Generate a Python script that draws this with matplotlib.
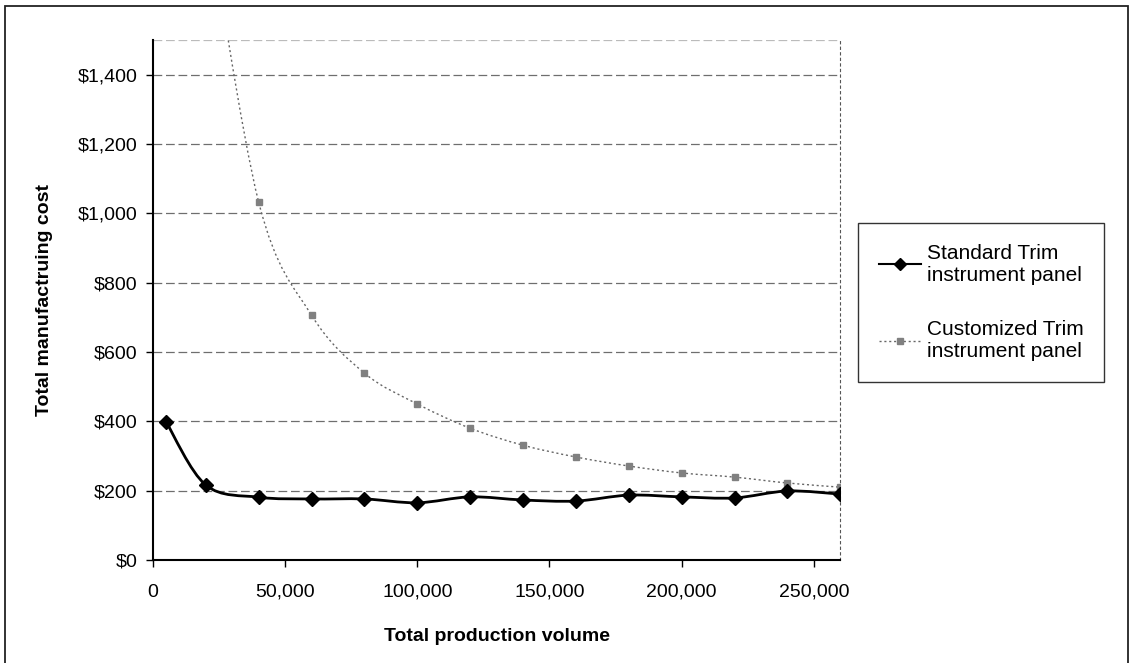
import numpy as np
from matplotlib import pyplot as plt
from matplotlib.path import Path
from matplotlib.patches import PathPatch, Rectangle
from matplotlib.lines import Line2D
from matplotlib.ticker import FuncFormatter

'''
Total manufacturing cost vs. total production volume
'''

volume = [5000, 20000, 40000, 60000, 80000, 100000, 120000, 140000,
          160000, 180000, 200000, 220000, 240000, 260000]
standard_cost = [398, 216, 181, 176, 176, 165, 182, 173, 170, 187, 182, 179, 199, 190]

# customized series: first visible point is at 40,000, the one at 20,000 is off the top
custom_volume = [20000, 40000, 60000, 80000, 100000, 120000, 140000,
                 160000, 180000, 200000, 220000, 240000, 260000]
custom_cost = [1900, 1032, 706, 539, 450, 380, 331, 297, 271, 251, 239, 222, 210]

x_ticks = [0, 50000, 100000, 150000, 200000, 250000]
y_ticks = [0, 200, 400, 600, 800, 1000, 1200, 1400]

plt.rcParams['font.family'] = ['Liberation Sans', 'DejaVu Sans']


def smooth_path(xs, ys):
    # Excel style smoothed line: Catmull-Rom segments as cubic bezier
    xs = np.asarray(xs, float)
    ys = np.asarray(ys, float)
    verts = [(xs[0], ys[0])]
    codes = [Path.MOVETO]
    n = len(xs)
    for i in range(n - 1):
        x0, y0 = (xs[i - 1], ys[i - 1]) if i > 0 else (xs[i], ys[i])
        x3, y3 = (xs[i + 2], ys[i + 2]) if i + 2 < n else (xs[i + 1], ys[i + 1])
        x1, y1 = xs[i], ys[i]
        x2, y2 = xs[i + 1], ys[i + 1]
        c1 = (x1 + (x2 - x0) / 6.0, y1 + (y2 - y0) / 6.0)
        c2 = (x2 - (x3 - x1) / 6.0, y2 - (y3 - y1) / 6.0)
        verts += [c1, c2, (x2, y2)]
        codes += [Path.CURVE4] * 3
    return Path(verts, codes)


fig = plt.figure(figsize=(11.38, 6.63), dpi=100)
ax = fig.add_axes([0.1344, 0.1554, 0.6040, 0.7843])

# outer frame of the chart
fig.patches.append(Rectangle((5 / 1138, -0.02), 1123 / 1138, 1 - 6 / 663 + 0.02,
                             transform=fig.transFigure, fill=False,
                             edgecolor='#222222', linewidth=1.3))

for yv in y_ticks[1:] + [1500]:
    ax.axhline(yv, color='#555555', linewidth=0.9, linestyle=(0, (7, 3)),
               zorder=1, alpha=0.85 if yv < 1500 else 0.4)

ax.add_patch(PathPatch(smooth_path(custom_volume, custom_cost), fill=False,
                       edgecolor='#666666', linewidth=1.0, linestyle=(0, (1.5, 2)),
                       zorder=2))
ax.plot(custom_volume, custom_cost, linestyle='none', marker='s', markersize=4,
        color='#808080', zorder=3)

ax.add_patch(PathPatch(smooth_path(volume, standard_cost), fill=False,
                       edgecolor='black', linewidth=2.0, zorder=4))
ax.plot(volume, standard_cost, linestyle='none', marker='D', markersize=7.5,
        color='black', zorder=5)

ax.set_xlim(0, 260000)
ax.set_ylim(0, 1500)
ax.set_xticks(x_ticks)
ax.set_yticks(y_ticks)
ax.xaxis.set_major_formatter(FuncFormatter(lambda v, p: '{:,.0f}'.format(v)))
ax.yaxis.set_major_formatter(FuncFormatter(lambda v, p: '${:,.0f}'.format(v)))
ax.tick_params(axis='both', direction='out', length=5, width=1, labelsize=14,
               color='black')
ax.tick_params(axis='x', pad=12)
ax.tick_params(axis='y', pad=6)

ax.spines['left'].set_linewidth(1.5)
ax.spines['bottom'].set_linewidth(1.5)
ax.spines['right'].set_linestyle((0, (2, 3)))
ax.spines['right'].set_color('#555555')
ax.spines['top'].set_visible(False)

ax.set_xlabel('Total production volume', fontsize=14, fontweight='bold', labelpad=20)
ax.set_ylabel('Total manufactruing cost', fontsize=14, fontweight='bold', labelpad=18)

handles = [
    Line2D([], [], color='black', linewidth=1.5, marker='D', markersize=6),
    Line2D([], [], color='#666666', linewidth=1.0, linestyle=(0, (1.5, 2)),
           marker='s', markersize=4, markerfacecolor='#808080', markeredgecolor='#808080'),
]
labels = ['Standard Trim\ninstrument panel', 'Customized Trim\ninstrument panel']
leg = fig.legend(handles, labels, loc='upper left', bbox_to_anchor=(0.754, 0.664),
                 fontsize=15, frameon=True, fancybox=False, edgecolor='black',
                 handlelength=2.0, handletextpad=0.3, labelspacing=1.7,
                 borderpad=1.0, borderaxespad=0)
leg.get_frame().set_linewidth(1.0)

fig.savefig('out.png', dpi=100)
